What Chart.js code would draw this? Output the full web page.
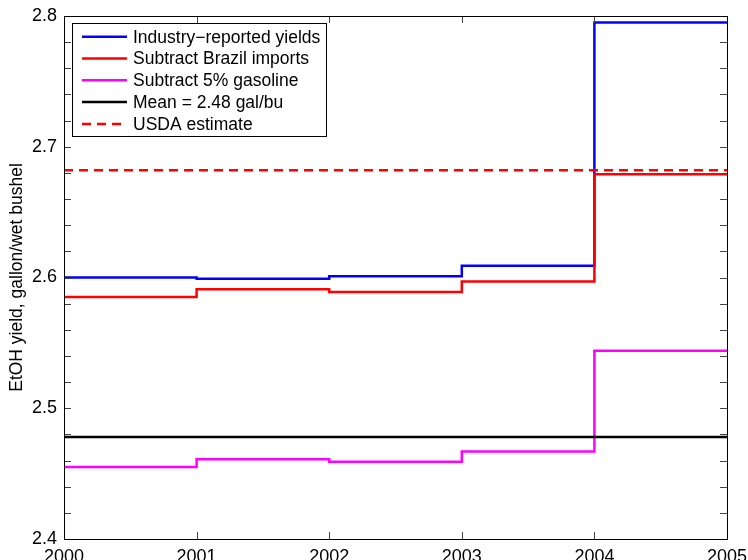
<!DOCTYPE html>
<html>
<head>
<meta charset="utf-8">
<script src="https://cdn.jsdelivr.net/npm/chart.js@4.4.1/dist/chart.umd.min.js"></script>
<style>
    html, body { margin: 0; padding: 0; background: #fff; }
    #wrap { width: 748px; height: 560px; }
</style>
</head>
<body>
<div id="wrap"><canvas id="yieldChart" width="748" height="560"></canvas></div>
<script>
// Data (one value per year interval, 2000-2004)
const years = [2000, 2001, 2002, 2003, 2004, 2005];
const industryYields = [2.600, 2.599, 2.601, 2.609, 2.795];
const brazilAdjusted = [2.585, 2.591, 2.589, 2.597, 2.679];
const gasolineAdjusted = [2.455, 2.461, 2.459, 2.467, 2.544];
const meanYield = 2.478;
const usdaEstimate = 2.682;

const yTickLabels = ['2.4', '2.5', '2.6', '2.7', '2.8'];

const FONT = 'Liberation Sans, Arial, Helvetica, sans-serif';

// stair-step: value i holds from years[i] to years[i+1]
function stepPoints(vals) {
    return years.map((yr, i) => ({ x: yr, y: vals[Math.min(i, vals.length - 1)] }));
}

function flatPoints(v) {
    return [{ x: years[0], y: v }, { x: years[years.length - 1], y: v }];
}

// MATLAB-style box with inward ticks
const boxAxes = {
    id: 'boxAxes',
    afterDraw(chart) {
        const { ctx, chartArea: a, scales } = chart;
        const len = 7;
        ctx.save();
        ctx.lineWidth = 1;
        ctx.strokeStyle = '#444';
        ctx.beginPath();
        scales.x.ticks.forEach(t => {
            const px = Math.round(scales.x.getPixelForValue(t.value)) + 0.5;
            ctx.moveTo(px, a.bottom);
            ctx.lineTo(px, a.bottom - len);
            ctx.moveTo(px, a.top);
            ctx.lineTo(px, a.top + len);
        });
        scales.y.ticks.forEach(t => {
            const py = Math.round(scales.y.getPixelForValue(t.value)) + 0.5;
            ctx.moveTo(a.left, py);
            ctx.lineTo(a.left + len, py);
            ctx.moveTo(a.right, py);
            ctx.lineTo(a.right - len, py);
        });
        ctx.stroke();
        ctx.strokeStyle = '#000';
        ctx.strokeRect(Math.round(a.left) + 0.5, Math.round(a.top) + 0.5,
            Math.round(a.right - a.left), Math.round(a.bottom - a.top));
        ctx.restore();
    }
};

// legend box inside the upper-left of the axes
const boxLegend = {
    id: 'boxLegend',
    afterDraw(chart) {
        const ctx = chart.ctx;
        const x0 = 72, y0 = 23, w = 254, h = 113;
        const rowH = 21.8, firstRow = 36.7;
        ctx.save();
        ctx.fillStyle = '#fff';
        ctx.fillRect(x0, y0, w, h);
        ctx.strokeStyle = '#000';
        ctx.lineWidth = 1;
        ctx.strokeRect(x0 + 0.5, y0 + 0.5, w, h);
        ctx.font = '17.5px ' + FONT;
        ctx.textBaseline = 'middle';
        chart.data.datasets.forEach((ds, i) => {
            const y = firstRow + i * rowH;
            ctx.strokeStyle = ds.borderColor;
            ctx.lineWidth = 2.5;
            ctx.setLineDash(ds.borderDash || []);
            ctx.beginPath();
            ctx.moveTo(82, y);
            ctx.lineTo(127, y);
            ctx.stroke();
            ctx.setLineDash([]);
            ctx.fillStyle = '#000';
            ctx.fillText(ds.label, 133, y + 1);
        });
        ctx.restore();
    }
};

function lineSet(label, data, color, order, extra) {
    return Object.assign({
        label: label,
        data: data,
        borderColor: color,
        borderWidth: 2.5,
        pointRadius: 0,
        fill: false,
        stepped: true,
        order: order
    }, extra || {});
}

const chart = new Chart(document.getElementById('yieldChart'), {
    type: 'line',
    data: {
        datasets: [
            lineSet('Industry\u2212reported yields', stepPoints(industryYields), '#0000ff', 5),
            lineSet('Subtract Brazil imports', stepPoints(brazilAdjusted), '#ff0000', 4),
            lineSet('Subtract 5% gasoline', stepPoints(gasolineAdjusted), '#ff00ff', 3),
            lineSet('Mean = 2.48 gal/bu', flatPoints(meanYield), '#000000', 2),
            lineSet('USDA estimate', flatPoints(usdaEstimate), '#ff0000', 1, { borderDash: [9, 6] })
        ]
    },
    options: {
        responsive: false,
        animation: false,
        devicePixelRatio: 1,
        layout: { padding: { top: 16, right: 21, left: 0, bottom: 0 } },
        plugins: {
            legend: { display: false },
            tooltip: { enabled: false }
        },
        scales: {
            x: {
                type: 'linear',
                min: years[0],
                max: years[years.length - 1],
                afterFit: s => { s.height = 21; s.paddingLeft = 0; s.paddingRight = 0; },
                grid: { display: false, drawTicks: false },
                border: { display: false },
                ticks: {
                    stepSize: 1,
                    padding: 7,
                    color: '#000',
                    maxRotation: 0,
                    autoSkip: false,
                    font: { family: FONT, size: 18 },
                    callback: v => String(v)
                }
            },
            y: {
                min: 2.4,
                max: 2.8,
                afterFit: s => { s.width = 64; s.paddingTop = 0; s.paddingBottom = 0; },
                grid: { display: false, drawTicks: false },
                border: { display: false },
                title: {
                    display: true,
                    text: 'EtOH yield, gallon/wet bushel',
                    color: '#000',
                    font: { family: FONT, size: 17.5 },
                    padding: { top: 7, bottom: 0 }
                },
                ticks: {
                    stepSize: 0.02,
                    padding: 7,
                    color: '#000',
                    autoSkip: false,
                    font: { family: FONT, size: 18 },
                    callback: v => {
                        const lbl = v.toFixed(1);
                        return (Math.abs(v * 10 - Math.round(v * 10)) < 1e-6 && yTickLabels.includes(lbl)) ? lbl : '';
                    }
                }
            }
        }
    },
    plugins: [boxAxes, boxLegend]
});
</script>
</body>
</html>
